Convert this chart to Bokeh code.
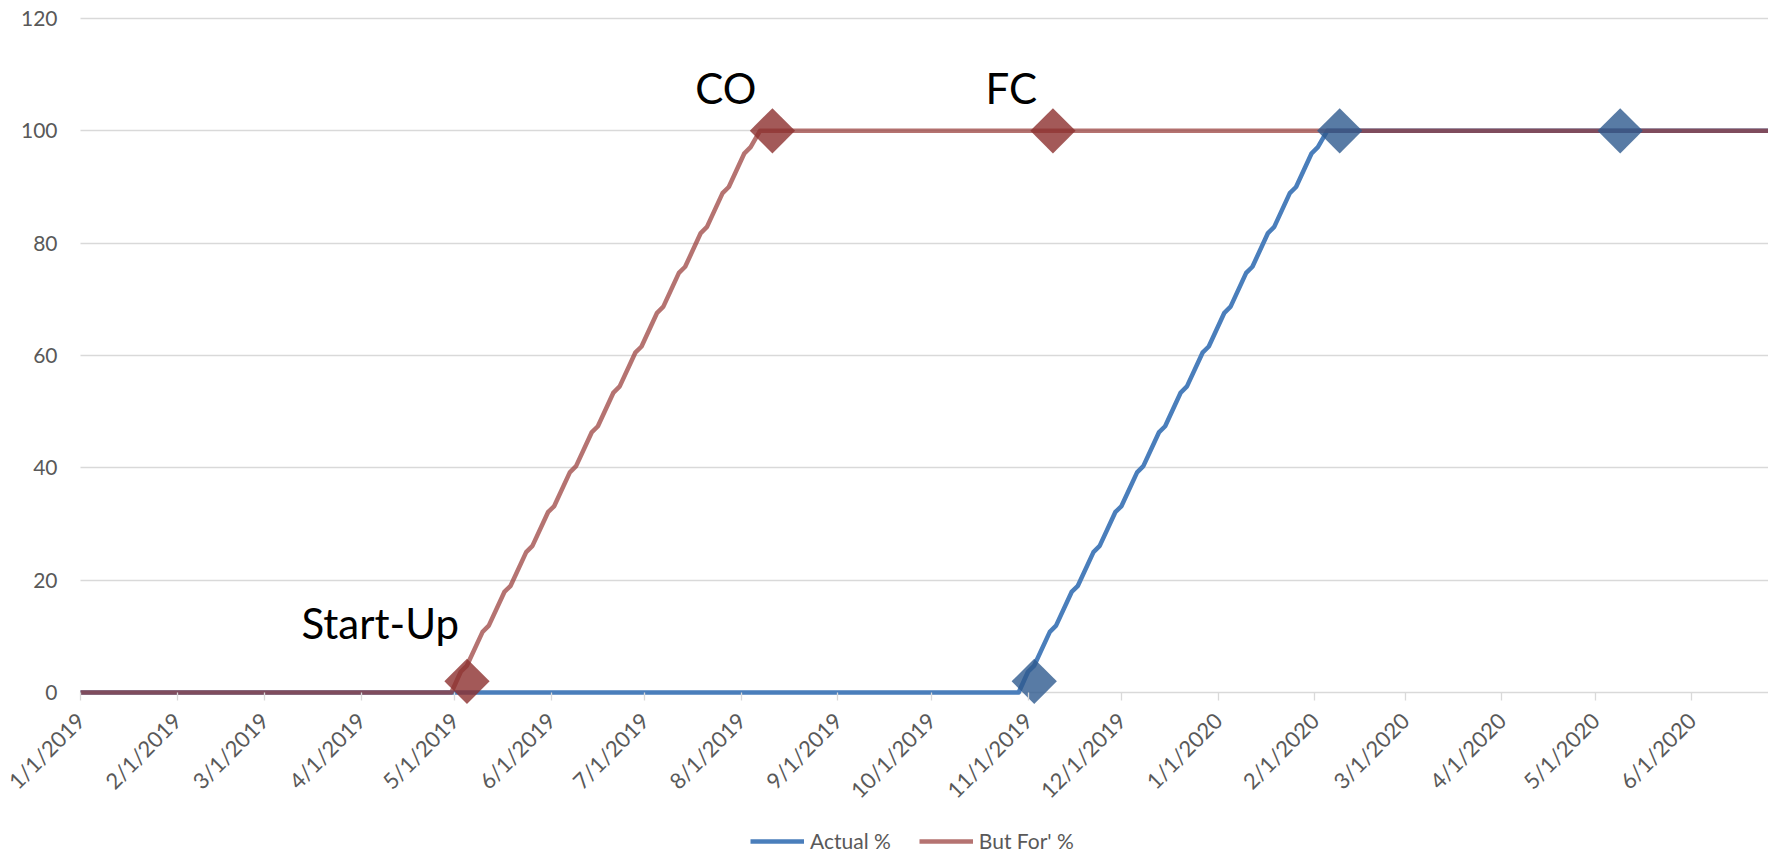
import pandas as pd
from math import pi
from bokeh.plotting import figure
from bokeh.models import ColumnDataSource, FixedTicker, Range1d, Legend, LegendItem
from bokeh.core.properties import value
from bokeh.embed import file_html
from bokeh.resources import INLINE

# Month-start ticks on the date axis
TICK_LABELS = ["1/1/2019", "2/1/2019", "3/1/2019", "4/1/2019", "5/1/2019", "6/1/2019",
               "7/1/2019", "8/1/2019", "9/1/2019", "10/1/2019", "11/1/2019", "12/1/2019",
               "1/1/2020", "2/1/2020", "3/1/2020", "4/1/2020", "5/1/2020", "6/1/2020"]
Y_TICKS = [0, 20, 40, 60, 80, 100, 120]

# Actual % complete (slower progress over weekends)
ACTUAL_DATES = ["2019-01-01", "2019-10-29",
                "2019-11-01", "2019-11-03", "2019-11-08", "2019-11-10", "2019-11-15", "2019-11-17",
                "2019-11-22", "2019-11-24", "2019-11-29", "2019-12-01", "2019-12-06", "2019-12-08",
                "2019-12-13", "2019-12-15", "2019-12-20", "2019-12-22", "2019-12-27", "2019-12-29",
                "2020-01-03", "2020-01-05", "2020-01-10", "2020-01-12", "2020-01-17", "2020-01-19",
                "2020-01-24", "2020-01-26", "2020-01-31", "2020-02-02",
                "2020-02-05", "2020-06-30"]
ACTUAL_PCT = [0, 0,
              3.7, 4.8, 10.8, 11.9, 17.9, 19.0,
              25.0, 26.1, 32.1, 33.2, 39.2, 40.3,
              46.3, 47.4, 53.4, 54.5, 60.5, 61.6,
              67.6, 68.7, 74.7, 75.8, 81.8, 82.9,
              88.9, 90.0, 96.0, 97.1,
              100, 100]

# 'But For' % complete
BUT_FOR_DATES = ["2019-01-01", "2019-04-30",
                 "2019-05-03", "2019-05-05", "2019-05-10", "2019-05-12", "2019-05-17", "2019-05-19",
                 "2019-05-24", "2019-05-26", "2019-05-31", "2019-06-02", "2019-06-07", "2019-06-09",
                 "2019-06-14", "2019-06-16", "2019-06-21", "2019-06-23", "2019-06-28", "2019-06-30",
                 "2019-07-05", "2019-07-07", "2019-07-12", "2019-07-14", "2019-07-19", "2019-07-21",
                 "2019-07-26", "2019-07-28", "2019-08-02", "2019-08-04",
                 "2019-08-07", "2020-06-30"]
BUT_FOR_PCT = [0, 0,
               3.7, 4.8, 10.8, 11.9, 17.9, 19.0,
               25.0, 26.1, 32.1, 33.2, 39.2, 40.3,
               46.3, 47.4, 53.4, 54.5, 60.5, 61.6,
               67.6, 68.7, 74.7, 75.8, 81.8, 82.9,
               88.9, 90.0, 96.0, 97.1,
               100, 100]

# Milestones
MILESTONE_LABELS = ["Start-Up", "CO", "FC"]
BUT_FOR_MARK_DATES = ["2019-05-05", "2019-08-11", "2019-11-09"]
BUT_FOR_MARK_PCT = [2, 100, 100]
ACTUAL_MARK_DATES = ["2019-11-03", "2020-02-09", "2020-05-09"]
ACTUAL_MARK_PCT = [2, 100, 100]

FONT = "Lato"
GREY_TEXT = "#595959"
GRID = "#D9D9D9"
BLUE = "#4A7EBB"
RED = "#953735"

epoch = pd.Timestamp("1970-01-01")


def to_ms(ts):
    return float((pd.Timestamp(ts) - epoch) / pd.Timedelta(milliseconds=1))


tick_dates = pd.to_datetime(TICK_LABELS, format="%m/%d/%Y")
tick_ms = [to_ms(d) for d in tick_dates]
axis_start = tick_ms[0]
axis_end = to_ms("2020-06-25 14:00")

# The plot frame covers the whole canvas; both axes are pinned inside it
# (dates at 0 %, percentages at the first date) so every label stays visible.
p = figure(width=1768, height=853, x_axis_type="datetime",
           x_range=Range1d(pd.Timestamp("2018-12-06 08:00"), pd.Timestamp("2020-06-25 14:00")),
           y_range=Range1d(-28.66, 123.2),
           output_backend="svg", toolbar_location=None,
           min_border_left=0, min_border_right=0, min_border_top=0, min_border_bottom=0,
           background_fill_color="white", border_fill_color="white", outline_line_color=None)

xa = p.xaxis[0]
xa.ticker = FixedTicker(ticks=tick_ms)
xa.major_label_overrides = {t: s for t, s in zip(tick_ms, TICK_LABELS)}
xa.major_label_orientation = pi / 4
xa.fixed_location = 0
xa.axis_line_color = None
xa.major_tick_line_color = GRID
xa.major_tick_line_width = 1.3
xa.major_tick_in = 0
xa.major_tick_out = 8
xa.minor_tick_line_color = None
xa.major_label_standoff = 16
xa.major_label_text_font = FONT
xa.major_label_text_font_size = "22px"
xa.major_label_text_color = GREY_TEXT

ya = p.yaxis[0]
ya.ticker = FixedTicker(ticks=Y_TICKS)
ya.fixed_location = axis_start
ya.axis_line_color = None
ya.major_tick_line_color = None
ya.major_tick_in = 0
ya.major_tick_out = 0
ya.minor_tick_line_color = None
ya.major_label_standoff = 23
ya.major_label_text_font = FONT
ya.major_label_text_font_size = "21px"
ya.major_label_text_color = GREY_TEXT

p.xgrid.visible = False
p.ygrid.grid_line_color = GRID
p.ygrid.grid_line_width = 1.3
p.ygrid.cross_bounds = (axis_start, axis_end)

actual_src = ColumnDataSource(dict(date=pd.to_datetime(ACTUAL_DATES), pct=ACTUAL_PCT))
but_for_src = ColumnDataSource(dict(date=pd.to_datetime(BUT_FOR_DATES), pct=BUT_FOR_PCT))

blue_line = p.line("date", "pct", source=actual_src, line_color=BLUE, line_width=4.5,
                   line_join="round", line_cap="butt")
red_line = p.line("date", "pct", source=but_for_src, line_color=RED, line_alpha=0.7,
                  line_width=4.5, line_join="round", line_cap="butt")

but_for_marks = ColumnDataSource(dict(date=pd.to_datetime(BUT_FOR_MARK_DATES), pct=BUT_FOR_MARK_PCT,
                                      label=MILESTONE_LABELS,
                                      dx=[-8, -16, -16], dy=[-58, -43, -43]))
actual_marks = ColumnDataSource(dict(date=pd.to_datetime(ACTUAL_MARK_DATES), pct=ACTUAL_MARK_PCT))

p.scatter("date", "pct", source=but_for_marks, marker="square", size=32, angle=pi / 4,
          fill_color="#8C2F2E", fill_alpha=0.8, line_color=None)
p.scatter("date", "pct", source=actual_marks, marker="square", size=32, angle=pi / 4,
          fill_color="#2E5A8E", fill_alpha=0.8, line_color=None)

p.text("date", "pct", text="label", source=but_for_marks, x_offset="dx", y_offset="dy",
       text_align="right", text_baseline="alphabetic", text_font=value(FONT),
       text_font_size="42px", text_color="black")

legend = Legend(items=[LegendItem(label=value("Actual %"), renderers=[blue_line]),
                       LegendItem(label=value("But For' %"), renderers=[red_line])],
                orientation="horizontal", location=(750, 0), padding=0, margin=0, spacing=28,
                glyph_width=54, glyph_height=20, label_standoff=6, label_height=20,
                label_text_font=FONT, label_text_font_size="21px", label_text_color=GREY_TEXT,
                border_line_color=None, background_fill_alpha=0)
p.add_layout(legend)

open("out.html", "w").write(file_html(p, INLINE))
